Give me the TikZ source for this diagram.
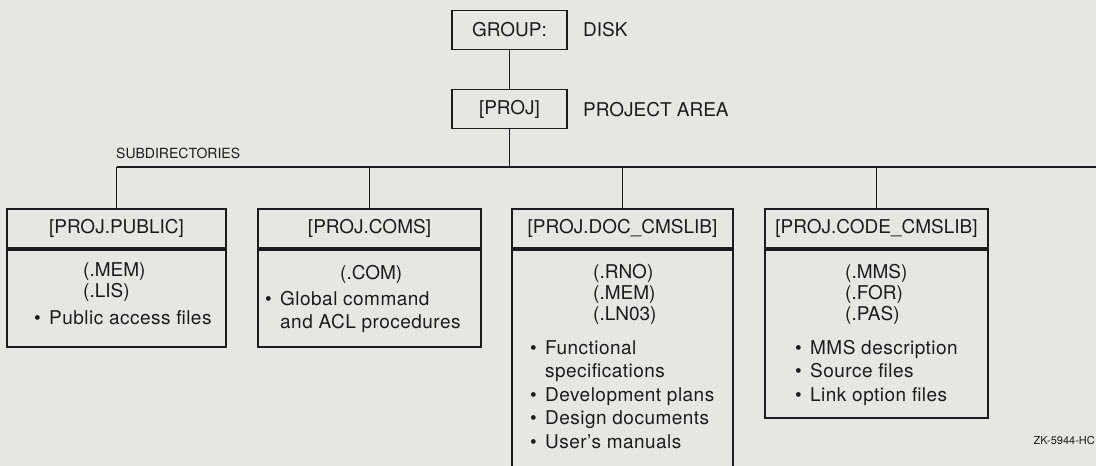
\documentclass[tikz,border=0pt]{standalone}
\usepackage{fontspec}
\setmainfont{TeX Gyre Heros}
\usetikzlibrary{positioning}
\definecolor{paper}{RGB}{230,230,227}
\definecolor{ink}{RGB}{28,28,28}
\newcommand{\dirfont}{\fontsize{19}{21}\selectfont}
\newcommand{\notefont}{\fontsize{19}{23.5}\selectfont\addfontfeatures{LetterSpace=2.5}}
\newcommand{\itm}{\makebox[15pt][l]{\textbullet}}
\newcommand{\cnt}{\hspace*{15pt}}
\tikzset{
    dirhead/.style={draw=ink, line width=1.8pt, minimum height=39pt, inner sep=0pt,
        text=ink, font=\dirfont},
    dirbody/.style={draw=ink, line width=1.8pt, inner sep=0pt, anchor=north},
    txt/.style={inner sep=0pt, text=ink, font=\dirfont, align=left, anchor=north west},
    note/.style={txt, font=\notefont},
    wire/.style={draw=ink, line width=1.8pt}
}

\begin{document}
\begin{tikzpicture}[x=1pt,y=-1pt]
        \useasboundingbox (0,0) rectangle (1096,466);
        \fill[paper] (0,0) rectangle (1096,466);
        % top of the tree
        \node[dirhead, minimum width=115pt] (group) at (509.5,30) {GROUP:};
        \node[txt, anchor=west] (disk) at (583,30) {DISK};
        \node[dirhead, minimum width=115pt] (proj) at (509.5,109) {[PROJ]};
        \node[txt, anchor=west] (area) at (583,110) {PROJECT AREA};
        \node[txt, anchor=west, font=\fontsize{14}{16}\selectfont] (subdirs) at (116,153) {SUBDIRECTORIES};
        \coordinate (bus) at (0,167);
        \coordinate (busend) at (1096,167);
        % subdirectories
        \node[dirhead, minimum width=219pt] (pub) at (116.5,228.5) {[PROJ.PUBLIC]};
        \node[dirbody, minimum width=219pt, minimum height=97pt] (pubbody) at (pub.south) {};
        \node[dirhead, minimum width=223pt] (coms) at (369.5,228.5) {[PROJ.COMS]};
        \node[dirbody, minimum width=223pt, minimum height=97pt] (comsbody) at (coms.south) {};
        \node[dirhead, minimum width=221pt] (doc) at (622.5,228.5) {[PROJ.DOC\_CMSLIB]};
        \node[dirbody, minimum width=221pt, minimum height=250pt] (docbody) at (doc.south) {};
        \node[dirhead, minimum width=223pt] (code) at (876.5,228.5) {[PROJ.CODE\_CMSLIB]};
        \node[dirbody, minimum width=223pt, minimum height=168pt] (codebody) at (code.south) {};
        % file types and contents
        \node[txt] (pubext) at (83,262) {(.MEM)\\(.LIS)};
        \node[note] (pubnote) at (34,310) {\itm Public access files};
        \node[txt] (comsext) at (340,265) {(.COM)};
        \node[note] (comsnote) at (265,291) {\itm Global command\\\cnt and ACL procedures};
        \node[txt] (docext) at (593,264) {(.RNO)\\(.MEM)\\(.LN03)};
        \node[note] (docnote) at (530,340) {\itm Functional\\\cnt specifications\\\itm Development plans\\\itm Design documents\\\itm User's manuals};
        \node[txt] (codeext) at (845,264) {(.MMS)\\(.FOR)\\(.PAS)};
        \node[note] (codenote) at (795,340) {\itm MMS description\\\itm Source files\\\itm Link option files};
        \node[txt, anchor=east, font=\fontsize{11}{12}\selectfont] (figid) at (1095,440) {ZK-5944-HC};
        % connectors
        \draw[wire] (group) -- (proj);
        \draw[wire] (proj) -- (proj |- bus);
        \draw[wire] (pub.north |- bus) -- (busend);
        \draw[wire] (pub) -- (pub |- bus);
        \draw[wire] (coms) -- (coms |- bus);
        \draw[wire] (doc) -- (doc |- bus);
        \draw[wire] (code) -- (code |- bus);
    \end{tikzpicture}
\end{document}
